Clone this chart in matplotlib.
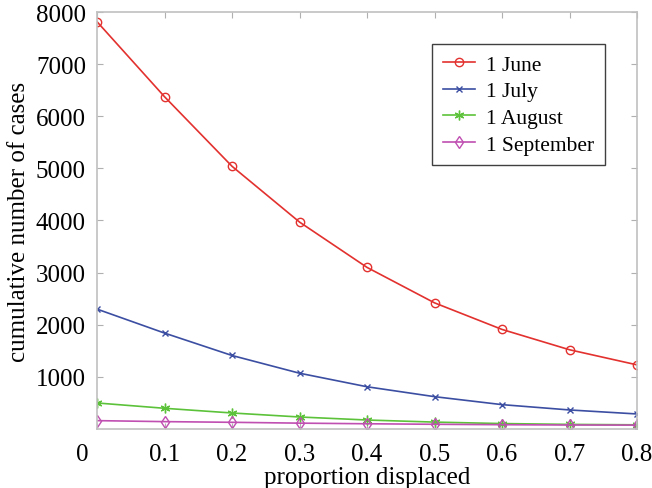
import matplotlib
matplotlib.use('Agg')
import matplotlib.pyplot as plt
from matplotlib.transforms import ScaledTranslation

plt.rcParams['font.family'] = ['Liberation Serif', 'DejaVu Serif']

x = [0, 0.1, 0.2, 0.3, 0.4, 0.5, 0.6, 0.7, 0.8]
june = [7814, 6375, 5040, 3970, 3100, 2420, 1910, 1520, 1230]
july = [2300, 1840, 1410, 1070, 810, 620, 467, 365, 288]
august = [499, 397, 307, 230, 172, 132, 104, 88, 80]
september = [160, 141, 128, 112, 100, 90, 82, 76, 74]
labels = ['1 June', '1 July', '1 August', '1 September']

fig = plt.figure(figsize=(6.52, 4.89), dpi=100)
ax = fig.add_axes([0.1488, 0.1207, 0.977 - 0.1488, 0.9734 - 0.1207])

ax.plot(x, june, color='#e2312e', marker='o', mfc='none', ms=6, lw=1.2, label=labels[0])
ax.plot(x, july, color='#3b4ea2', marker='x', ms=5, lw=1.2, label=labels[1])
ax.plot(x, august, color='#5cc23a', marker=(6, 2, 0), ms=7, lw=1.2, label=labels[2])
ax.plot(x, september, color='#c04fb2', marker='d', mfc='none', ms=6, lw=1.2, label=labels[3])

ax.set_xlim(0, 0.8)
ax.set_ylim(0, 8000)
ax.set_xticks(x)
ax.set_xticklabels(['0', '0.1', '0.2', '0.3', '0.4', '0.5', '0.6', '0.7', '0.8'])
ax.set_yticks(range(1000, 8001, 1000))
ax.tick_params(direction='in', top=True, right=True, length=4, width=0.8,
               color='#b0b0b0', labelsize=18)
ax.tick_params(axis='x', pad=10)
ax.tick_params(axis='y', pad=8)
for s in ax.spines.values():
    s.set_color('#c0c0c0')
    s.set_linewidth(1.2)

# the "0" sits a little left of the axis corner in the original
lab0 = ax.xaxis.get_major_ticks()[0].label1
lab0.set_transform(lab0.get_transform() + ScaledTranslation(-0.15, 0, fig.dpi_scale_trans))

ax.set_xlabel('proportion displaced', fontsize=18, labelpad=1)
ax.set_ylabel('cumulative number of cases', fontsize=18, labelpad=4)

leg = ax.legend(loc='upper right', bbox_to_anchor=(0.941, 0.923), borderaxespad=0,
                fontsize=15.5, fancybox=False, framealpha=1, edgecolor='#404040',
                handlelength=1.5, handletextpad=0.5, borderpad=0.5, labelspacing=0.3)
leg.get_frame().set_linewidth(1.0)

fig.savefig('out.png', dpi=100)
